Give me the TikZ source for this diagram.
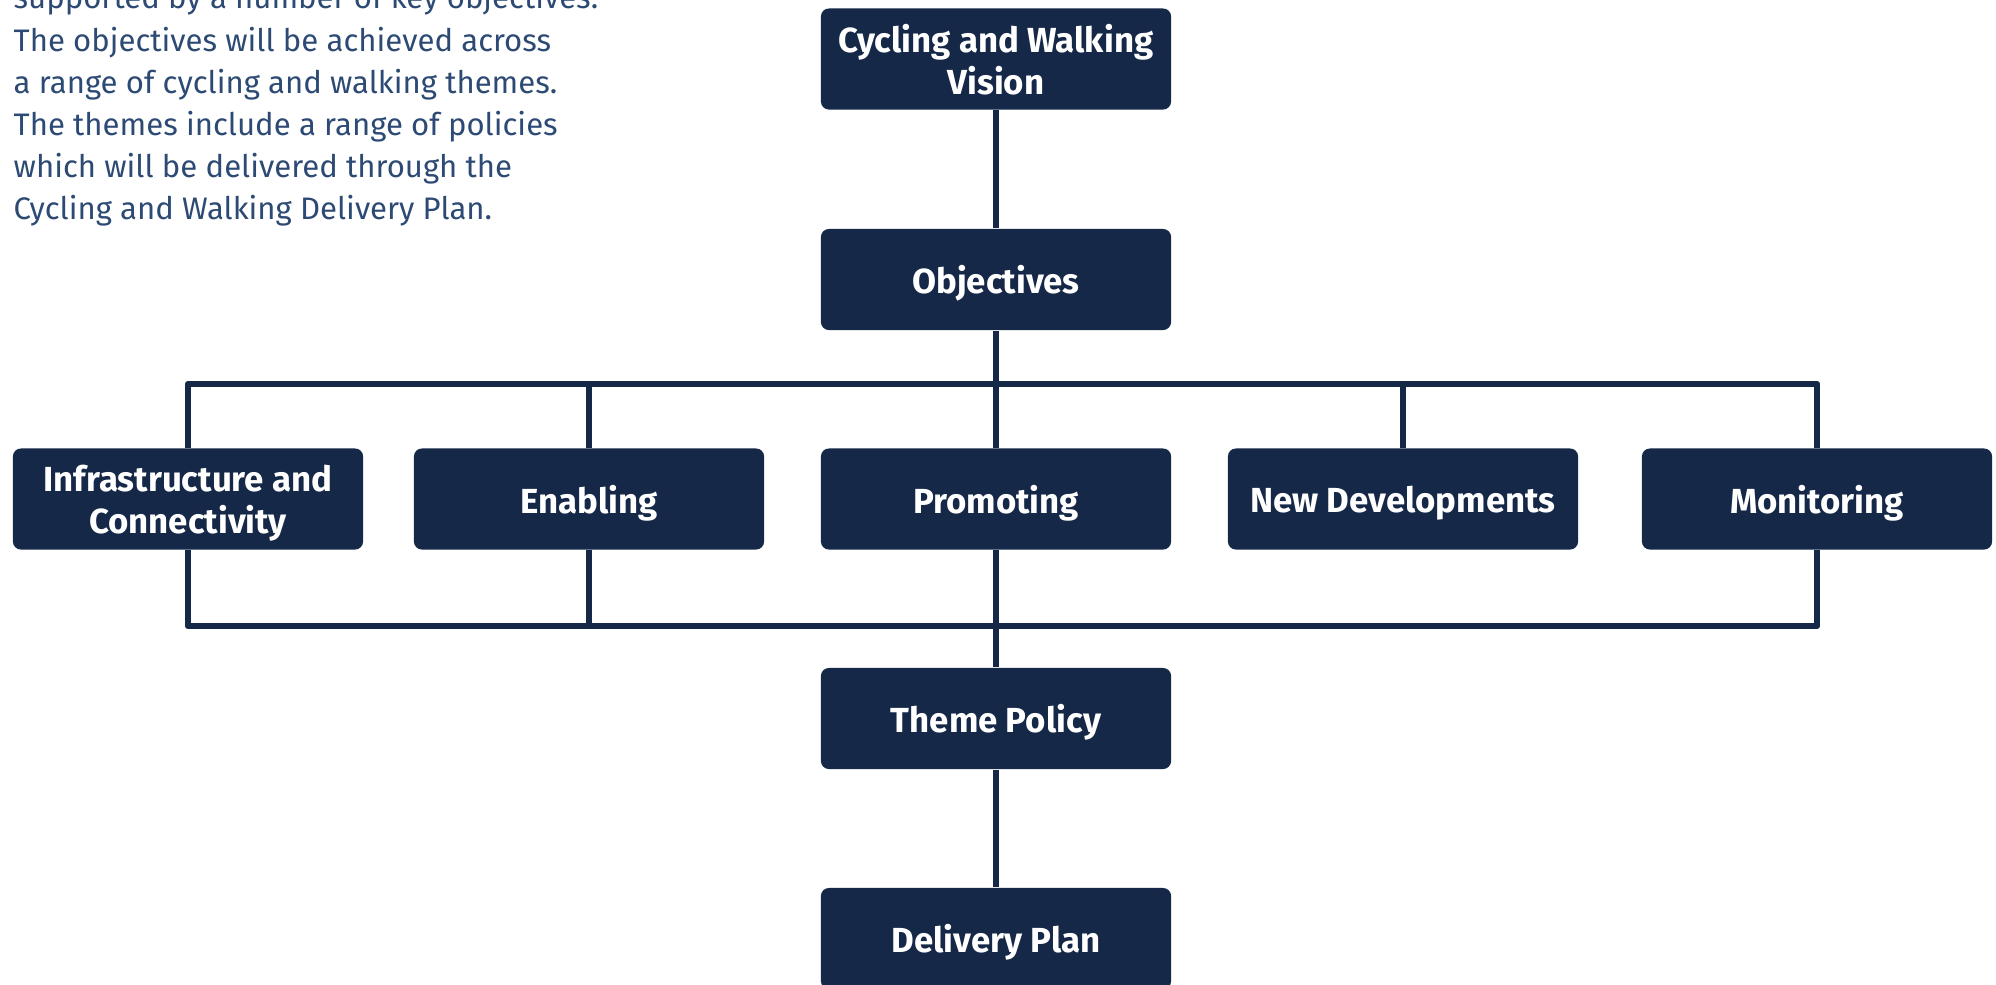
\documentclass[tikz,border=0pt]{standalone}
\usepackage{fontspec}
\setmainfont{Fira Sans}
\definecolor{navy}{HTML}{152848}
\definecolor{introblue}{HTML}{2D4A74}
\begin{document}
\begin{tikzpicture}[x=0.01cm, y=-0.01cm,
  box/.style={fill=navy, rounded corners=0.08cm, minimum width=3.5cm, minimum height=1.01cm,
    inner sep=0pt, align=center, text=white, text depth=0pt,
    font=\fontsize{9.9}{11.9}\selectfont\bfseries},
  link/.style={draw=navy, line width=1.8pt, line join=round}]
\useasboundingbox (0,0) rectangle (1996,984);
% intro text
\node[anchor=north west, align=left, inner sep=0pt, text=introblue,
  font=\fontsize{8.85}{11.95}\selectfont] (intro) at (13,-16)
  {supported by a number of key objectives.\\
   The objectives will be achieved across\\
   a range of cycling and walking themes.\\
   The themes include a range of policies\\
   which will be delivered through the\\
   Cycling and Walking Delivery Plan.};
% bars
\coordinate (topbar) at (0,384);
\coordinate (botbar) at (0,626);
% boxes
\node[box] (vision) at (996,59) {Cycling and Walking\\Vision};
\node[box] (obj) at (996,279.5) {Objectives};
\node[box] (infra) at (188,499) {Infrastructure and\\Connectivity};
\node[box] (enab) at (589,499) {Enabling};
\node[box] (prom) at (996,499) {Promoting};
\node[box] (newdev) at (1403,499) {New Developments};
\node[box] (mon) at (1817,499) {Monitoring};
\node[box] (theme) at (996,718.5) {Theme Policy};
\node[box] (plan) at (996,938.5) {Delivery Plan};
\draw[link] (vision) -- (obj);
\draw[link] (obj) -- (prom);
\draw[link] (infra.north) -- (infra.north |- topbar) -- (mon.north |- topbar) -- (mon.north);
\draw[link] (enab.north) -- (enab.north |- topbar);
\draw[link] (newdev.north) -- (newdev.north |- topbar);
\draw[link] (infra.south) -- (infra.south |- botbar) -- (mon.south |- botbar) -- (mon.south);
\draw[link] (enab.south) -- (enab.south |- botbar);
\draw[link] (prom) -- (theme);
\draw[link] (theme) -- (plan);
\end{tikzpicture}
\end{document}
